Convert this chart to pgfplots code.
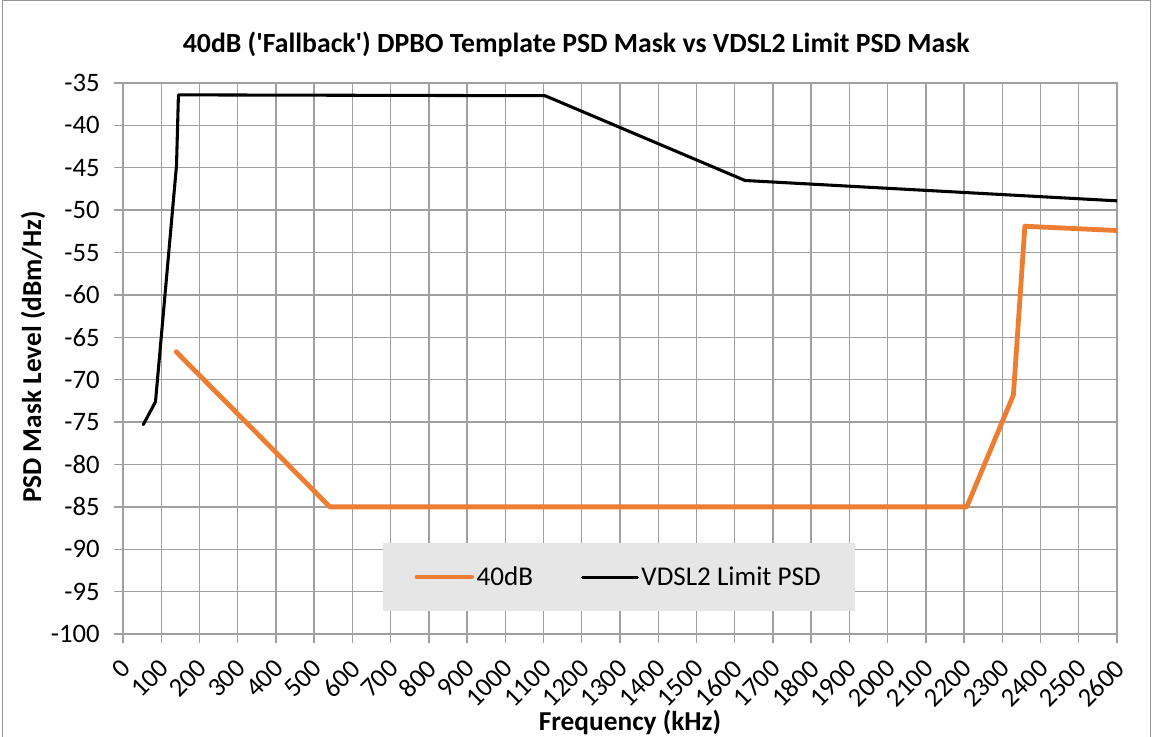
\documentclass[border=0pt]{standalone}
\usepackage{fontspec}
\setmainfont{Carlito}
\usepackage{pgfplots}
\pgfplotsset{compat=1.18}

\definecolor{xlorange}{RGB}{237,125,49}
\definecolor{gridgray}{RGB}{160,160,160}
\definecolor{framegray}{RGB}{150,150,150}
\definecolor{legfill}{RGB}{230,230,230}

\begin{document}
\begin{tikzpicture}
% page = 1152 x 737 px at 0.75pt per px
\useasboundingbox (0,0) rectangle (864pt,-552.75pt);
\draw[framegray, line width=0.8pt] (2pt,-560pt) -- (2pt,-0.6pt) -- (862.8pt,-0.6pt) -- (862.8pt,-560pt);
\begin{axis}[
    at={(92.25pt,-475.5pt)}, anchor=south west,
    scale only axis,
    width=745.5pt, height=413.25pt,
    xmin=0, xmax=2600, ymin=-100, ymax=-35,
    xtick distance=100, ytick distance=5,
    xtick pos=bottom, ytick pos=left,
    grid=major,
    major grid style={gridgray, line width=1pt},
    axis line style={gridgray, line width=1.1pt},
    tick style={gridgray, line width=1pt},
    tick align=outside, major tick length=6.5pt,
    scaled ticks=false,
    /pgf/number format/assume math mode=true,
    /pgf/number format/1000 sep={},
    tick label style={font=\fontsize{20}{24}\selectfont, text=black},
    yticklabel style={xshift=-7.5pt},
    % shifts are in the rotated frame of the label
    xticklabel style={rotate=45, anchor=east, inner sep=0pt, xshift=-9.6pt, yshift=-13pt},
    title={\textbf{40dB (\textquotesingle Fallback\textquotesingle) DPBO Template PSD Mask vs VDSL2 Limit PSD Mask}},
    title style={at={(axis description cs:0.456,1)}, anchor=base, yshift=17pt, font=\fontsize{20.8}{24}\selectfont},
    xlabel={\textbf{Frequency (kHz)}},
    xlabel style={at={(axis description cs:0.51,-0.176)}, anchor=base, font=\fontsize{20.5}{24}\selectfont},
    ylabel={\textbf{PSD Mask Level (dBm/Hz)}},
    ylabel style={at={(axis description cs:-0.0905,0.503)}, anchor=center, font=\fontsize{20.5}{24}\selectfont},
    legend columns=2,
    legend style={at={(0.499,0.1034)}, anchor=center, draw=none, fill=legfill,
        inner xsep=24pt, inner ysep=16pt,
        font=\fontsize{20.3}{24}\selectfont,
        /tikz/every even column/.append style={column sep=34pt}},
    legend image code/.code={\draw[#1] (0pt,0pt) -- (41pt,0pt);},
]
\addplot[xlorange, line width=3.6pt, line join=round, line cap=round] coordinates {
    (139,-66.7) (541,-85.0) (2207,-85.0) (2329,-71.8) (2359,-51.9) (2600,-52.4)
};
\addlegendentry{40dB}
\addplot[black, line width=2.3pt, line join=round, line cap=round] coordinates {
    (53,-75.3) (85,-72.6) (140,-44.7) (145,-36.4) (1104,-36.5) (1627,-46.5) (2600,-48.9)
};
\addlegendentry{VDSL2 Limit PSD}
\end{axis}
\end{tikzpicture}
\end{document}
